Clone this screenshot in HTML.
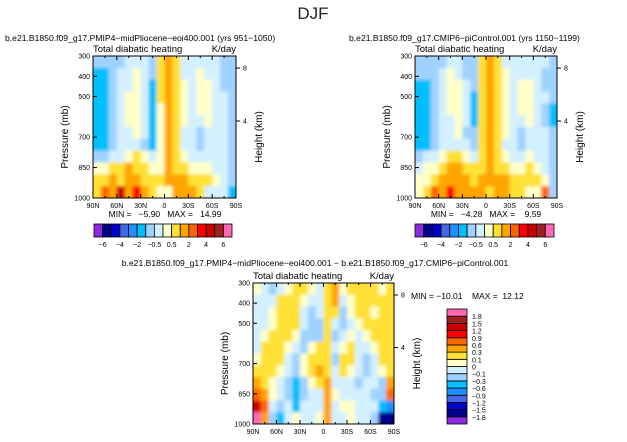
<!DOCTYPE html>
<html><head><meta charset="utf-8">
<style>
body{margin:0;background:#fff;}
svg{display:block;font-family:"Liberation Sans",sans-serif;}
</style></head>
<body>
<svg id="fig" width="627" height="442" viewBox="0 0 627 442">
<defs><filter id="soft" x="0" y="0" width="1" height="1"><feGaussianBlur stdDeviation="1.6"/></filter></defs>
<text x="313" y="19" font-size="17" text-anchor="middle" fill="#222">DJF</text>
</svg>
<script>
const lats = ["90N","60N","30N","0","30S","60S","90S"];
const pTicks = [300,400,500,700,850,1000];
const levelsFull = [-6,-5,-4,-3,-2,-1,-0.5,0,0.5,1,2,3,4,5,6];
const levelsDiff = [-1.8,-1.5,-1.2,-0.9,-0.6,-0.3,-0.1,0,0.1,0.3,0.6,0.9,1.2,1.5,1.8];
const colors = ["#8a2be2","#00008b","#0000cd","#4169e1","#1e90ff","#00bfff","#a0d2ff","#d3f0ff","#ffffc8","#ffe135","#ffa500","#ff6600","#ff0000","#c80000","#a02020","#ff69b4"];
const fieldMid = [
[-0.7,-0.7,-0.7,-0.7,-0.3,-0.3,-0.3,-0.7,0.7,1.5,0.7,-0.3,-0.3,-0.3,-0.3,-0.3,-0.7,-0.7],
[-1.5,-1.5,-0.7,-0.3,-0.3,0.3,-0.3,-0.7,0.7,1.5,0.7,-0.3,-0.3,0.3,-0.3,-0.3,-0.7,-0.7],
[-1.5,-1.5,-0.7,-0.3,-0.3,0.3,-0.3,-1.5,0.7,1.5,0.7,0.3,-0.3,0.3,0.3,-0.3,-0.7,-0.7],
[-1.5,-1.5,-0.7,-0.3,0.3,0.3,-0.3,-1.5,0.7,1.5,0.7,0.3,-0.3,0.3,0.3,-0.3,-0.3,-0.7],
[-1.5,-1.5,-0.7,-0.3,0.3,0.3,-0.3,-1.5,0.3,1.5,0.7,0.3,-0.3,0.3,0.3,-0.3,-0.3,-0.7],
[-1.5,-1.5,-0.7,-0.3,0.3,0.3,-0.3,-1.5,0.3,1.5,0.7,0.3,-0.3,-0.3,0.3,-0.3,-0.3,-0.7],
[-1.5,-1.5,-0.7,-0.3,-0.3,0.3,-0.3,-1.5,0.3,1.5,0.7,-0.3,-0.3,-0.7,-0.3,-0.3,-0.3,-0.7],
[-1.5,-1.5,-0.7,-0.3,-0.3,-0.3,-0.7,-1.5,0.3,1.5,0.7,-0.3,-0.3,-0.7,-0.3,-0.3,-0.3,-0.7],
[-0.7,-0.7,-0.3,-0.3,0.3,0.7,0.3,-0.3,0.3,1.5,0.7,0.3,-0.3,-0.3,-0.3,-0.3,-0.3,-0.7],
[0.3,0.3,0.7,0.7,1.5,0.7,0.7,0.3,0.3,1.5,0.7,0.7,0.3,0.3,0.3,-0.3,-0.3,-0.7],
[0.7,0.7,1.5,0.7,1.5,1.5,0.7,0.7,0.7,1.5,1.5,1.5,0.7,0.7,0.7,0.3,-0.3,-0.7],
[0.7,2.5,1.5,4.5,1.5,3.5,1.5,0.7,0.3,0.3,1.5,1.5,1.5,0.7,-0.1,-0.1,-0.3,-1.5]];
const fieldPi = [
[-0.7,-0.7,-0.7,-0.7,-0.3,-0.3,-0.7,-0.7,0.7,1.5,0.7,-0.3,-0.3,-0.3,-0.3,-0.3,-0.3,-0.7],
[-0.7,-0.7,-0.7,-0.3,0.3,-0.3,-0.7,-0.7,0.7,1.5,0.7,0.3,-0.3,-0.3,-0.3,-0.3,-0.7,-0.7],
[-1.5,-1.5,-0.7,-0.3,0.3,0.3,-0.3,-0.7,0.7,1.5,0.7,0.3,-0.3,0.3,0.3,-0.3,-0.7,-0.7],
[-1.5,-1.5,-0.7,-0.3,0.3,0.3,-0.3,-1.5,0.7,1.5,0.7,0.3,-0.3,0.3,0.3,-0.3,-0.3,-0.7],
[-1.5,-1.5,-0.7,-0.3,0.3,0.3,-0.3,-1.5,0.7,1.5,0.7,0.3,-0.3,0.3,0.3,-0.3,-0.7,-1.5],
[-1.5,-1.5,-0.7,-0.3,-0.3,0.3,-0.3,-1.5,0.7,1.5,0.7,0.3,-0.3,-0.3,0.3,-0.3,-0.7,-1.5],
[-1.5,-1.5,-0.7,-0.3,-0.3,0.3,-0.7,-0.7,0.7,1.5,0.7,0.3,-0.3,-0.7,-0.3,-0.3,-0.3,-0.7],
[-1.5,-1.5,-0.7,-0.3,-0.3,-0.3,-0.3,-0.7,0.7,1.5,0.7,-0.3,-0.3,-0.7,-0.3,-0.3,-0.3,-0.7],
[-0.7,-0.3,-0.3,0.3,0.7,0.7,0.3,-0.3,0.7,1.5,0.7,0.3,-0.3,-0.3,0.3,-0.3,-0.3,-0.7],
[-0.3,0.3,0.3,0.7,1.5,1.5,0.7,0.7,0.7,1.5,0.7,0.7,0.3,0.3,0.7,0.3,-0.3,-0.7],
[0.3,0.3,0.7,1.5,1.5,1.5,1.5,0.7,1.5,1.5,1.5,1.5,0.7,0.7,0.7,0.7,0.3,-0.7],
[0.3,0.7,2.5,1.5,3.5,1.5,1.5,1.5,1.5,0.7,1.5,1.5,0.7,0.7,0.3,0.3,2.5,-0.7]];
const fieldDiff = [
[0.05,-0.05,-0.2,-0.05,0.05,0.2,0.2,0.05,-0.05,0.2,0.4,0.05,0.2,0.2,0.2,0.2,0.05,0.2],
[-0.05,-0.05,-0.05,0.2,0.2,0.2,0.05,-0.05,-0.05,0.2,0.4,-0.05,0.05,0.2,0.2,0.2,0.2,0.2],
[-0.05,-0.05,0.05,0.2,0.2,0.2,-0.05,-0.2,-0.05,0.2,0.2,-0.2,0.05,0.2,0.2,0.05,0.2,0.2],
[-0.05,-0.05,0.05,0.2,0.2,0.2,-0.05,-0.2,-0.2,0.2,-0.05,-0.2,-0.05,0.05,0.2,0.2,0.2,0.2],
[-0.05,0.05,0.2,0.2,0.2,0.05,-0.2,-0.2,-0.2,0.2,-0.2,-0.05,0.05,-0.05,0.05,0.2,0.2,0.2],
[-0.05,0.2,0.2,0.2,0.05,-0.05,-0.2,0.05,0.2,0.2,-0.05,0.05,0.2,-0.05,-0.05,0.05,0.2,0.2],
[0.05,0.2,0.2,0.2,-0.05,-0.2,0.05,0.2,0.2,0.2,-0.2,0.2,0.2,-0.05,-0.2,-0.05,0.2,0.2],
[0.2,0.2,0.2,0.05,-0.05,-0.2,0.05,0.2,0.4,0.2,-0.05,0.2,0.05,-0.05,-0.2,-0.05,0.05,0.2],
[0.4,0.2,0.05,-0.05,-0.2,-0.4,-0.2,0.05,0.2,0.4,-0.05,-0.05,-0.05,-0.2,-0.05,-0.05,-0.2,0.4],
[0.7,0.4,0.05,-0.05,-0.2,-0.4,-0.2,-0.05,-0.05,0.4,0.05,-0.05,-0.05,-0.05,-0.05,-0.2,-0.2,0.7],
[1.3,0.7,-0.05,-0.2,-0.05,-0.4,-0.05,-0.05,-0.05,0.4,-0.05,0.05,0.05,-0.05,-0.05,-0.05,-0.4,-0.7],
[2,0.4,-0.2,-0.4,-0.05,0.05,-0.05,-0.05,0.05,0.4,-0.05,-0.05,0.05,-0.05,-0.05,-0.2,-1.6,-1.6]];

const NS="http://www.w3.org/2000/svg";
const svg=document.getElementById('fig');
function mk(tag,attrs,parent){const e=document.createElementNS(NS,tag);for(const k in attrs)e.setAttribute(k,attrs[k]);(parent||svg).appendChild(e);return e;}
function txt(x,y,s,size,anchor,parent){const t=mk('text',{x:x,y:y,'font-size':size,'text-anchor':anchor||'start',fill:'#000'},parent);t.textContent=s;return t;}
function colorFor(v,levels){let i=0;while(i<levels.length&&v>=levels[i])i++;return colors[i];}
let clipN=0;
function drawPlot(name,field,levels,x0,y0,w,h){
  const g=mk('g',{});
  
  
  const defs=svg.querySelector('defs');
  const cp=mk('clipPath',{id:'cp'+(++clipN)},defs);
  mk('rect',{x:x0,y:y0,width:w,height:h},cp);
  const outer=mk('g',{'clip-path':'url(#cp'+clipN+')'},g);
  const cells=mk('g',{filter:'url(#soft)'},outer);
  const nr=field.length,nc=field[0].length;
  const xs=c=>x0+c*w/nc, ys=r=>y0+r*h/nr;
  field.forEach((row,r)=>row.forEach((v,c)=>{
    let X=xs(c),Y=ys(r),W=w/nc+0.6,H=h/nr+0.6;
    if(c===0){X-=4;W+=4;} if(c===nc-1){W+=4;}
    if(r===0){Y-=4;H+=4;} if(r===nr-1){H+=4;}
    const cell=mk('rect',{x:X,y:Y,width:W,height:H,fill:colorFor(v,levels)},cells);
    
    
  }));
  mk('rect',{x:x0,y:y0,width:w,height:h,fill:'none',stroke:'#000','stroke-width':1},g);
  const xScale=i=>x0+i*w/(lats.length-1);
  lats.forEach((l,i)=>{
    const x=xScale(i);
    mk('line',{x1:x,y1:y0+h,x2:x,y2:y0+h-4,stroke:'#000'},g);
    mk('line',{x1:x,y1:y0,x2:x,y2:y0+4,stroke:'#000'},g);
    if(i<lats.length-1){const xm=x+w/(lats.length-1)/2;
      mk('line',{x1:xm,y1:y0+h,x2:xm,y2:y0+h-2,stroke:'#000'},g);
      mk('line',{x1:xm,y1:y0,x2:xm,y2:y0+2,stroke:'#000'},g);}
    const t=txt(x,y0+h+10,l,7,'middle',g);
    
    
  });
  const yScale=p=>y0+(p-300)/700*h;
  pTicks.forEach(p=>{
    const y=yScale(p);
    mk('line',{x1:x0,y1:y,x2:x0+4,y2:y,stroke:'#000'},g);
    const t=txt(x0-3,y+2.5,String(p),7,'end',g);
    
    
  });
  [[8,h*0.085],[4,h*0.458]].forEach(([k,dy])=>{
    mk('line',{x1:x0+w,y1:y0+dy,x2:x0+w+4,y2:y0+dy,stroke:'#000'},g);
    txt(x0+w+7,y0+dy+2.5,String(k),7,'start',g);
  });
  const yl=txt(0,0,'Pressure (mb)',10,'middle',g);
  yl.setAttribute('transform',`translate(${x0-25},${y0+h/2+10}) rotate(-90)`);
  
  
  const yr=txt(0,0,'Height (km)',10,'middle',g);
  yr.setAttribute('transform',`translate(${x0+w+26},${y0+h/2+10}) rotate(-90)`);
  
  
  const l1=txt(x0,y0-4,'Total diabatic heating',9.5,'start',g);
  
  
  const l2=txt(x0+w,y0-4,'K/day',9.5,'end',g);
  
  
}

function hbar(name,levels,labels,x0,y0,w,h){
  const g=mk('g',{});
  
  
  const n=colors.length,bw=w/n;
  colors.forEach((c,i)=>{const r=mk('rect',{x:x0+i*bw,y:y0,width:bw,height:h,fill:c,stroke:'#000','stroke-width':0.8},g);
    });
  levels.forEach((lv,i)=>{if(labels.includes(lv)){const t=txt(x0+(i+1)*bw,y0+h+10,String(lv).replace('-','\u2212'),7,'middle',g);
    }});
}
function vbar(name,levels,x0,y0,w,h){
  const g=mk('g',{});
  
  
  const n=colors.length,bh=h/n;
  colors.forEach((c,i)=>{const r=mk('rect',{x:x0,y:y0+(n-1-i)*bh,width:w,height:bh,fill:c,stroke:'#000','stroke-width':0.8},g);
    });
  levels.forEach((lv,i)=>{const t=txt(x0+w+5,y0+(n-1-i)*bh+3,String(lv).replace('-','\u2212'),7,'start',g);
    });
}

let t;
t=txt(5,41,'b.e21.B1850.f09_g17.PMIP4\u2212midPliocene\u2212eoi400.001  (yrs 951\u22121050)',8.6,'start');

t=txt(349,41,'b.e21.B1850.f09_g17.CMIP6\u2212piControl.001  (yrs 1150\u22121199)',8.6,'start');

t=txt(315,266,'b.e21.B1850.f09_g17.PMIP4\u2212midPliocene\u2212eoi400.001  \u2212  b.e21.B1850.f09_g17.CMIP6\u2212piControl.001',8.6,'middle');


drawPlot('midpliocene-panel',fieldMid,levelsFull,93,56,143,142);
drawPlot('picontrol-panel',fieldPi,levelsFull,415,56,142,142);
drawPlot('difference-panel',fieldDiff,levelsDiff,253,283,141,141);

t=txt(165,217,'MIN =   \u22125.90   MAX =   14.99',8.5,'middle');

t.style.whiteSpace='pre';
t=txt(486,217,'MIN =   \u22124.28   MAX =    9.59',8.5,'middle');

t.style.whiteSpace='pre';
t=txt(411,299,'MIN = \u221210.01    MAX =  12.12',8.5,'start');

t.style.whiteSpace='pre';

const fullLabels=[-6,-4,-2,-0.5,0.5,2,4,6];
hbar('left-colorbar',levelsFull,fullLabels,94,224,138,13);
hbar('right-colorbar',levelsFull,fullLabels,415,224,139,13);
vbar('diff-colorbar',levelsDiff,447,309,20,115);
</script>
</body></html>
